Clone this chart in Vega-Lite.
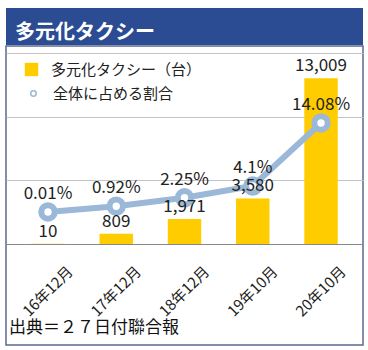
{
  "$schema": "https://vega.github.io/schema/vega-lite/v6.json",
  "padding": {"left": 5, "top": 8, "right": 0, "bottom": 0},
  "background": "white",
  "config": {
    "font": "Noto Sans CJK JP"
  },
  "datasets": {
    "taxi": [
      {"month": "16年12月", "count": 10, "share": 0.0001},
      {"month": "17年12月", "count": 809, "share": 0.0092},
      {"month": "18年12月", "count": 1971, "share": 0.0225},
      {"month": "19年10月", "count": 3580, "share": 0.041},
      {"month": "20年10月", "count": 13009, "share": 0.1408}
    ]
  },
  "vconcat": [
    {
      "width": 357,
      "height": 37,
      "view": {"fill": "#2B4C93", "stroke": null},
      "title": {"text": "多元化タクシー", "anchor": "start", "orient": "top", "offset": -35, "dx": 9, "fontSize": 20, "fontWeight": "bold", "color": "white"},
      "data": {"values": [{"label": ""}]},
      "mark": {"type": "text", "color": "white"},
      "encoding": {"text": {"field": "label", "type": "nominal"}}
    },
    {
      "width": 357,
      "height": 299,
      "view": {"stroke": "#5A6A8E", "strokeWidth": 1.5, "fill": "white"},
      "title": {"text": "出典＝２７日付聯合報", "orient": "bottom", "anchor": "start", "offset": -25, "dx": 3, "fontSize": 17, "fontWeight": "normal", "color": "#111"},
      "data": {"name": "taxi"},
      "encoding": {
        "x": {
          "field": "month", "type": "ordinal", "sort": null,
          "scale": {"paddingInner": 0.51, "paddingOuter": 0.37},
          "axis": {"title": null, "orient": "bottom", "offset": -101, "domainColor": "#888", "domainWidth": 1, "ticks": false, "tickSize": 0, "labelAngle": -45, "labelAlign": "center", "labelBaseline": "middle", "labelPadding": 47, "labelFontSize": 15, "labelColor": "#222", "labelOverlap": false, "labelBound": false}
        }
      },
      "layer": [
        {
          "mark": {"type": "bar"},
          "encoding": {
            "y": {"field": "count", "type": "quantitative", "scale": {"domain": [-7932, 15550], "nice": false, "zero": false},
              "axis": {"title": null, "values": [5000, 10000, 15000], "grid": true, "gridColor": "#c4c4c4", "labels": false, "ticks": false, "domain": false}},
            "y2": {"datum": 0},
            "color": {
              "datum": "多元化タクシー（台）", "type": "nominal",
              "scale": {"domain": ["多元化タクシー（台）"], "range": ["#FFCC00"]},
              "legend": {
                "title": null, "orient": "none", "legendX": 18, "legendY": 54, "padding": 0,
                "symbolSize": 180, "symbolType": "square", "labelFontSize": 15, "labelColor": "#222", "labelOffset": 12
              }
            }
          }
        },
        {
          "mark": {"type": "line", "strokeWidth": 6, "color": "#9BB8D8"},
          "encoding": {
            "y": {"field": "share", "type": "quantitative", "scale": {"domain": [-0.2103, 0.26245], "nice": false, "zero": false}, "axis": null}
          }
        },
        {
          "mark": {"type": "point", "filled": true, "color": "white", "size": 180, "opacity": 1},
          "encoding": {
            "y": {"field": "share", "type": "quantitative", "scale": {"domain": [-0.2103, 0.26245], "nice": false, "zero": false}, "axis": null}
          }
        },
        {
          "mark": {"type": "point", "filled": false, "color": "#9BB8D8", "strokeWidth": 6, "size": 180, "opacity": 1},
          "encoding": {
            "y": {"field": "share", "type": "quantitative", "scale": {"domain": [-0.2103, 0.26245], "nice": false, "zero": false}, "axis": null},
            "shape": {
              "datum": "全体に占める割合", "type": "nominal",
              "scale": {"domain": ["全体に占める割合"], "range": ["circle"]},
              "legend": {
                "title": null, "orient": "none", "legendX": 20, "legendY": 78, "padding": 0,
                "symbolSize": 30,
                "labelFontSize": 15, "labelColor": "#222", "labelOffset": 12,
                "encode": {
                  "symbols": {
                    "update": {
                      "fill": {"value": "white"},
                      "stroke": {"value": "#9BB8D8"},
                      "strokeWidth": {"value": 3},
                      "size": {"value": 30}
                    }
                  }
                }
              }
            }
          }
        },
        {
          "mark": {"type": "text", "baseline": "alphabetic", "dy": -7, "fontSize": 17, "color": "#222"},
          "encoding": {
            "y": {"field": "count", "type": "quantitative", "scale": {"domain": [-7932, 15550], "nice": false, "zero": false}, "axis": null},
            "text": {"field": "count", "type": "quantitative", "format": ",d"}
          }
        },
        {
          "mark": {"type": "text", "baseline": "alphabetic", "dy": -13, "fontSize": 17, "color": "#222"},
          "encoding": {
            "y": {"field": "share", "type": "quantitative", "scale": {"domain": [-0.2103, 0.26245], "nice": false, "zero": false}, "axis": null},
            "text": {"field": "share", "type": "quantitative", "format": ".2~%"}
          }
        }
      ],
      "resolve": {"scale": {"y": "independent"}, "axis": {"y": "independent"}}
    }
  ],
  "spacing": 0
}
